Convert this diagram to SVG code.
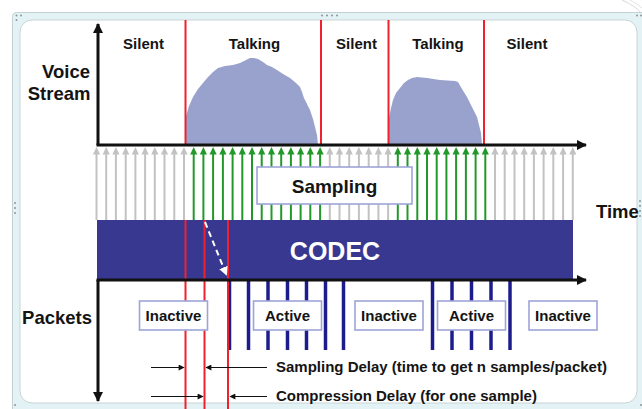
<svg xmlns="http://www.w3.org/2000/svg" xmlns:xlink="http://www.w3.org/1999/xlink" width="642" height="409" viewBox="0 0 642 409">
  <style>
    .lbl { font-family: "Liberation Sans", Arial, sans-serif; font-weight: bold; fill: #141414; }
    .big { font-size: 18.5px; }
    .mid { font-size: 15px; }
    .axis { stroke: #111; stroke-width: 3; fill: none; }
    .red { stroke: #f0202c; stroke-width: 2; }
    .pkt { stroke: #1c1c8c; stroke-width: 3.5; }
    .box { fill: #fff; stroke: #9ea4d8; stroke-width: 1.6; }
    .thin { stroke: #111; stroke-width: 1; }
    .dot { fill: #8c969a; }
  </style>
  <defs>
    <g id="arrow-gray">
      <path d="M0,220 V152" stroke="#c2c2c2" stroke-width="2"/>
      <path d="M-3.6,154.5 L0,147 L3.6,154.5 Z" fill="#c2c2c2"/>
    </g>
    <g id="arrow-green">
      <path d="M0,220 V152" stroke="#23982a" stroke-width="2"/>
      <path d="M-3.6,154.5 L0,147 L3.6,154.5 Z" fill="#23982a"/>
    </g>
    <marker id="head-black" viewBox="0 0 10 10" refX="9" refY="5" markerWidth="10" markerHeight="10" markerUnits="userSpaceOnUse" orient="auto">
      <path d="M0,0 L10,5 L0,10 Z" fill="#111"/>
    </marker>
    <marker id="head-small" viewBox="0 0 10 10" refX="9" refY="5" markerWidth="7" markerHeight="6" markerUnits="userSpaceOnUse" orient="auto">
      <path d="M0,0 L10,5 L0,10 Z" fill="#111"/>
    </marker>
    <marker id="head-white" viewBox="0 0 10 10" refX="9" refY="5" markerWidth="9" markerHeight="9" markerUnits="userSpaceOnUse" orient="auto">
      <path d="M0,0 L10,5 L0,10 Z" fill="#fff"/>
    </marker>
  </defs>

  <!-- window frame -->
  <g id="frame">
    <rect x="0" y="0" width="642" height="409" fill="#fff"/>
    <path d="M622,0 Q636,6 642,14" fill="none" stroke="#dadada" stroke-width="1"/>
    <path d="M630,0 Q638,4 642,8" fill="none" stroke="#e2e2e2" stroke-width="1"/>
    <rect x="12.5" y="12.5" width="640" height="410" rx="4" fill="#e3f3f5" stroke="#c4d0d4"/>
    <rect x="20" y="20" width="617" height="383" rx="12" fill="#fff" stroke="#c9d3d6"/>
    <circle class="dot" cx="16.5" cy="15.5" r="1"/>
    <circle class="dot" cx="21" cy="15.5" r="1"/>
    <circle class="dot" cx="16.5" cy="20" r="1"/>
    <circle class="dot" cx="322" cy="15.5" r="1"/>
    <circle class="dot" cx="327" cy="15.5" r="1"/>
    <circle class="dot" cx="332" cy="15.5" r="1"/>
    <circle class="dot" cx="337" cy="15.5" r="1"/>
    <circle class="dot" cx="637" cy="15.5" r="1"/>
    <circle class="dot" cx="641" cy="15.5" r="1"/>
    <circle class="dot" cx="15" cy="203" r="1"/>
    <circle class="dot" cx="15" cy="208" r="1"/>
    <circle class="dot" cx="15" cy="213" r="1"/>
    <circle class="dot" cx="640" cy="201" r="1"/>
    <circle class="dot" cx="640" cy="206" r="1"/>
    <circle class="dot" cx="640" cy="211" r="1"/>
    <circle class="dot" cx="640" cy="216" r="1"/>
    <circle class="dot" cx="15" cy="405" r="1"/>
    <circle class="dot" cx="641" cy="405" r="1"/>
  </g>

  <!-- voice waveform -->
  <g id="voice-stream">
    <path fill="#99a2cc" d="M186,145 L186,116 L189,106 L193,97 L198,89 L203,83 L208,77 L213,72 L218,68 L225,66 L233,65 L240,63 L246,60 L250,58 L254,58 L258,59 L263,62 L267,65 L272,67 L277,70 L283,74 L290,78 L296,83 L300,87 L302,92 L304,98 L307,104 L310,110 L313,119 L315,127 L317,135 L318,145 Z"/>
    <path fill="#99a2cc" d="M389,145 L389,118 L391,108 L393,100 L396,93 L400,88 L404,83 L408,80 L412,78 L417,77 L427,78 L440,80 L455,81 L458,82 L462,89 L467,97 L472,107 L477,117 L479,125 L481,133 L482,145 Z"/>
  </g>

  <!-- speech boundaries -->
  <g id="boundaries">
    <line class="red" x1="185.5" y1="20" x2="185.5" y2="145"/>
    <line class="red" x1="321" y1="20" x2="321" y2="145"/>
    <line class="red" x1="388.5" y1="20" x2="388.5" y2="145"/>
    <line class="red" x1="484" y1="20" x2="484" y2="145"/>
  </g>

  <!-- sampling instants -->
  <g id="sampling-arrows">
    <use xlink:href="#arrow-gray" x="96.5"/>
    <use xlink:href="#arrow-gray" x="106.2"/>
    <use xlink:href="#arrow-gray" x="115.9"/>
    <use xlink:href="#arrow-gray" x="125.7"/>
    <use xlink:href="#arrow-gray" x="135.4"/>
    <use xlink:href="#arrow-gray" x="145.1"/>
    <use xlink:href="#arrow-gray" x="154.8"/>
    <use xlink:href="#arrow-gray" x="164.5"/>
    <use xlink:href="#arrow-gray" x="174.3"/>
    <use xlink:href="#arrow-gray" x="184.0"/>
    <use xlink:href="#arrow-green" x="193.7"/>
    <use xlink:href="#arrow-green" x="203.4"/>
    <use xlink:href="#arrow-green" x="213.1"/>
    <use xlink:href="#arrow-green" x="222.9"/>
    <use xlink:href="#arrow-green" x="232.6"/>
    <use xlink:href="#arrow-green" x="242.3"/>
    <use xlink:href="#arrow-green" x="252.0"/>
    <use xlink:href="#arrow-green" x="261.7"/>
    <use xlink:href="#arrow-green" x="271.5"/>
    <use xlink:href="#arrow-green" x="281.2"/>
    <use xlink:href="#arrow-green" x="290.9"/>
    <use xlink:href="#arrow-green" x="300.6"/>
    <use xlink:href="#arrow-green" x="310.3"/>
    <use xlink:href="#arrow-green" x="320.1"/>
    <use xlink:href="#arrow-gray" x="329.8"/>
    <use xlink:href="#arrow-gray" x="339.5"/>
    <use xlink:href="#arrow-gray" x="349.2"/>
    <use xlink:href="#arrow-gray" x="358.9"/>
    <use xlink:href="#arrow-gray" x="368.7"/>
    <use xlink:href="#arrow-gray" x="378.4"/>
    <use xlink:href="#arrow-gray" x="388.1"/>
    <use xlink:href="#arrow-green" x="397.8"/>
    <use xlink:href="#arrow-green" x="407.5"/>
    <use xlink:href="#arrow-green" x="417.3"/>
    <use xlink:href="#arrow-green" x="427.0"/>
    <use xlink:href="#arrow-green" x="436.7"/>
    <use xlink:href="#arrow-green" x="446.4"/>
    <use xlink:href="#arrow-green" x="456.1"/>
    <use xlink:href="#arrow-green" x="465.9"/>
    <use xlink:href="#arrow-green" x="475.6"/>
    <use xlink:href="#arrow-green" x="485.3"/>
    <use xlink:href="#arrow-gray" x="495.0"/>
    <use xlink:href="#arrow-gray" x="504.7"/>
    <use xlink:href="#arrow-gray" x="514.5"/>
    <use xlink:href="#arrow-gray" x="524.2"/>
    <use xlink:href="#arrow-gray" x="533.9"/>
    <use xlink:href="#arrow-gray" x="543.6"/>
    <use xlink:href="#arrow-gray" x="553.3"/>
    <use xlink:href="#arrow-gray" x="563.1"/>
    <use xlink:href="#arrow-gray" x="572.8"/>
  </g>

  <!-- sampling label -->
  <g id="sampling">
    <rect class="box" x="257" y="167" width="155" height="37"/>
    <text class="lbl" x="334.5" y="193" font-size="19" text-anchor="middle">Sampling</text>
  </g>

  <!-- codec block -->
  <g id="codec">
    <rect x="97" y="220" width="476" height="60" fill="#383891"/>
    <text x="335" y="259.5" font-family="Liberation Sans, Arial, sans-serif" font-weight="bold" font-size="25" fill="#fff" text-anchor="middle">CODEC</text>
  </g>

  <!-- packet bursts -->
  <g id="packet-lines">
    <line class="pkt" x1="229.5" y1="280" x2="229.5" y2="350"/>
    <line class="pkt" x1="248.5" y1="280" x2="248.5" y2="350"/>
    <line class="pkt" x1="268" y1="280" x2="268" y2="350"/>
    <line class="pkt" x1="287.5" y1="280" x2="287.5" y2="350"/>
    <line class="pkt" x1="306.5" y1="280" x2="306.5" y2="350"/>
    <line class="pkt" x1="325.5" y1="280" x2="325.5" y2="350"/>
    <line class="pkt" x1="343.5" y1="280" x2="343.5" y2="350"/>
    <line class="pkt" x1="432.5" y1="280" x2="432.5" y2="350"/>
    <line class="pkt" x1="452" y1="280" x2="452" y2="350"/>
    <line class="pkt" x1="471.5" y1="280" x2="471.5" y2="350"/>
    <line class="pkt" x1="491" y1="280" x2="491" y2="350"/>
    <line class="pkt" x1="510" y1="280" x2="510" y2="350"/>
  </g>

  <!-- delay markers -->
  <g id="delay-lines">
    <line class="red" x1="185.5" y1="220" x2="185.5" y2="409"/>
    <line class="red" x1="204.5" y1="220" x2="204.5" y2="409"/>
    <line class="red" x1="228" y1="220" x2="228" y2="409"/>
  </g>

  <!-- packet labels -->
  <g id="packet-inactive-1">
    <rect class="box" x="139.5" y="301" width="68" height="29"/>
    <text class="lbl mid" x="173.5" y="321" text-anchor="middle">Inactive</text>
  </g>
  <g id="packet-active-1">
    <rect class="box" x="253.5" y="301" width="68" height="29"/>
    <text class="lbl mid" x="287.5" y="321" text-anchor="middle">Active</text>
  </g>
  <g id="packet-inactive-2">
    <rect class="box" x="355" y="301" width="68" height="29"/>
    <text class="lbl mid" x="389" y="321" text-anchor="middle">Inactive</text>
  </g>
  <g id="packet-active-2">
    <rect class="box" x="437.5" y="301" width="68" height="29"/>
    <text class="lbl mid" x="471.5" y="321" text-anchor="middle">Active</text>
  </g>
  <g id="packet-inactive-3">
    <rect class="box" x="529" y="301" width="68" height="29"/>
    <text class="lbl mid" x="563" y="321" text-anchor="middle">Inactive</text>
  </g>

  <!-- axes and pointers -->
  <g id="connectors">
    <line class="axis" x1="98" y1="145" x2="98" y2="24" marker-end="url(#head-black)"/>
    <line class="axis" x1="96.5" y1="145" x2="586" y2="145" marker-end="url(#head-black)"/>
    <line class="axis" x1="96.5" y1="280" x2="586" y2="280" marker-end="url(#head-black)"/>
    <line class="axis" x1="98" y1="280" x2="98" y2="401" marker-end="url(#head-black)"/>
    <line x1="205" y1="222" x2="226.5" y2="275" stroke="#fff" stroke-width="2" stroke-dasharray="6,4" marker-end="url(#head-white)"/>
    <line class="thin" x1="151" y1="367.5" x2="184" y2="367.5" marker-end="url(#head-small)"/>
    <line class="thin" x1="267" y1="367.5" x2="206" y2="367.5" marker-end="url(#head-small)"/>
    <line class="thin" x1="151" y1="396.5" x2="203" y2="396.5" marker-end="url(#head-small)"/>
    <line class="thin" x1="267" y1="396.5" x2="230" y2="396.5" marker-end="url(#head-small)"/>
  </g>

  <!-- captions -->
  <g id="labels">
    <text class="lbl mid" x="143.5" y="49" text-anchor="middle">Silent</text>
    <text class="lbl mid" x="254.5" y="49" text-anchor="middle">Talking</text>
    <text class="lbl mid" x="356.5" y="49" text-anchor="middle">Silent</text>
    <text class="lbl mid" x="438" y="49" text-anchor="middle">Talking</text>
    <text class="lbl mid" x="527" y="49" text-anchor="middle">Silent</text>
    <text class="lbl big" x="90" y="78" text-anchor="end">Voice</text>
    <text class="lbl big" x="90.5" y="100" text-anchor="end">Stream</text>
    <text class="lbl big" x="92" y="323.5" text-anchor="end">Packets</text>
    <text class="lbl big" x="596" y="218">Time</text>
    <text class="lbl mid" x="276" y="372">Sampling Delay (time to get n samples/packet)</text>
    <text class="lbl mid" x="276" y="401">Compression Delay (for one sample)</text>
  </g>
</svg>
